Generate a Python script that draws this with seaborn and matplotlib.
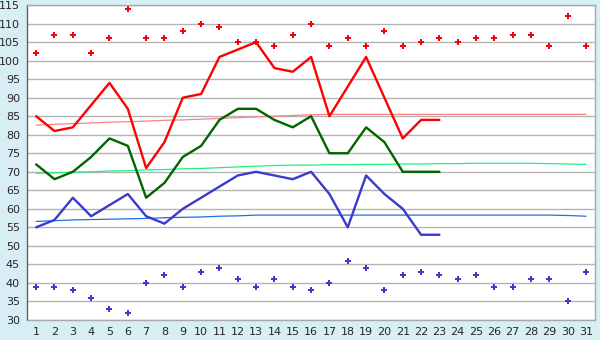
import numpy as np
import pandas as pd
import seaborn as sns
import matplotlib.pyplot as plt

sns.set_style("white")

days = list(range(1, 32))
obs_days = list(range(1, 24))

# record values (scatter)
record_high = [102, 107, 107, 102, 106, 114, 106, 106, 108, 110, 109, 105, 105, 104, 107, 110,
               104, 106, 104, 108, 104, 105, 106, 105, 106, 106, 107, 107, 104, 112, 104]
record_low = [39, 39, 38, 36, 33, 32, 40, 42, 39, 43, 44, 41, 39, 41, 39, 38,
              40, 46, 44, 38, 42, 43, 42, 41, 42, 39, 39, 41, 41, 35, 43]

# observed (days 1-23)
obs_high = [85, 81, 82, 88, 94, 87, 71, 78, 90, 91, 101, 103, 105, 98, 97, 101,
            85, 93, 101, 90, 79, 84, 84]
obs_mean = [72, 68, 70, 74, 79, 77, 63, 67, 74, 77, 84, 87, 87, 84, 82, 85,
            75, 75, 82, 78, 70, 70, 70]
obs_low = [55, 57, 63, 58, 61, 64, 58, 56, 60, 63, 66, 69, 70, 69, 68, 70,
           64, 55, 69, 64, 60, 53, 53]

# normals
normal_high = [82.6, 82.8, 83.0, 83.2, 83.4, 83.5, 83.7, 83.9, 84.0, 84.2, 84.4, 84.6, 84.8,
               85.0, 85.2, 85.4, 85.5, 85.5, 85.5, 85.5, 85.5, 85.5, 85.5, 85.5, 85.5, 85.5,
               85.5, 85.5, 85.5, 85.5, 85.5]
normal_mean = [69.6, 69.7, 69.9, 70.0, 70.2, 70.3, 70.5, 70.6, 70.8, 70.9, 71.1, 71.3, 71.5,
               71.7, 71.8, 71.8, 71.9, 71.9, 72.0, 72.0, 72.1, 72.1, 72.2, 72.2, 72.3, 72.3,
               72.3, 72.3, 72.2, 72.1, 72.0]
normal_low = [56.6, 56.8, 57.0, 57.1, 57.2, 57.3, 57.4, 57.6, 57.7, 57.8, 58.0, 58.1, 58.3,
              58.3, 58.3, 58.3, 58.3, 58.3, 58.3, 58.3, 58.3, 58.3, 58.3, 58.3, 58.3, 58.3,
              58.3, 58.3, 58.3, 58.2, 58.0]

df_all = pd.DataFrame({"day": days, "rec_hi": record_high, "rec_lo": record_low,
                       "nhigh": normal_high, "nmean": normal_mean, "nlow": normal_low})
df_obs = pd.DataFrame({"day": obs_days, "high": obs_high, "mean": obs_mean, "low": obs_low})

fig = plt.figure(figsize=(6, 3.4), dpi=100, facecolor="#d8eef5")
ax = fig.add_axes([0.045, 0.059, 0.947, 0.926])
ax.set_facecolor("white")

for v in range(30, 120, 5):
    ax.axhline(v, color="#b4b4b4", lw=1.0, zorder=0)

sns.lineplot(data=df_all, x="day", y="nhigh", color="#ff8080", lw=0.9, ax=ax)
sns.lineplot(data=df_all, x="day", y="nmean", color="#1ef07e", lw=0.9, ax=ax)
sns.lineplot(data=df_all, x="day", y="nlow", color="#1a72e6", lw=0.9, ax=ax)

sns.lineplot(data=df_obs, x="day", y="high", color="#ff0000", lw=1.7, ax=ax)
sns.lineplot(data=df_obs, x="day", y="mean", color="#006400", lw=1.7, ax=ax)
sns.lineplot(data=df_obs, x="day", y="low", color="#3a3acc", lw=1.7, ax=ax)

sns.scatterplot(data=df_all, x="day", y="rec_hi", color="#ff0000", marker="P",
                s=22, linewidth=0, ax=ax)
sns.scatterplot(data=df_all, x="day", y="rec_lo", color="#3a3acc", marker="P",
                s=22, linewidth=0, ax=ax)

ax.set_xlim(0.5, 31.5)
ax.set_ylim(30, 115)
ax.set_xticks(days)
ax.set_yticks(range(30, 116, 5))
ax.tick_params(axis="both", labelsize=8, length=3, width=0.8, color="#404040", pad=2)
ax.set_xlabel("")
ax.set_ylabel("")

for s in ["top", "right"]:
    ax.spines[s].set_color("#a8a8a8")
    ax.spines[s].set_linewidth(1.0)
ax.spines["left"].set_color("#606060")
ax.spines["bottom"].set_color("#a8a8a8")
ax.spines["left"].set_linewidth(1.0)
ax.spines["bottom"].set_linewidth(1.0)

fig.savefig("out.png", dpi=100, facecolor=fig.get_facecolor())
